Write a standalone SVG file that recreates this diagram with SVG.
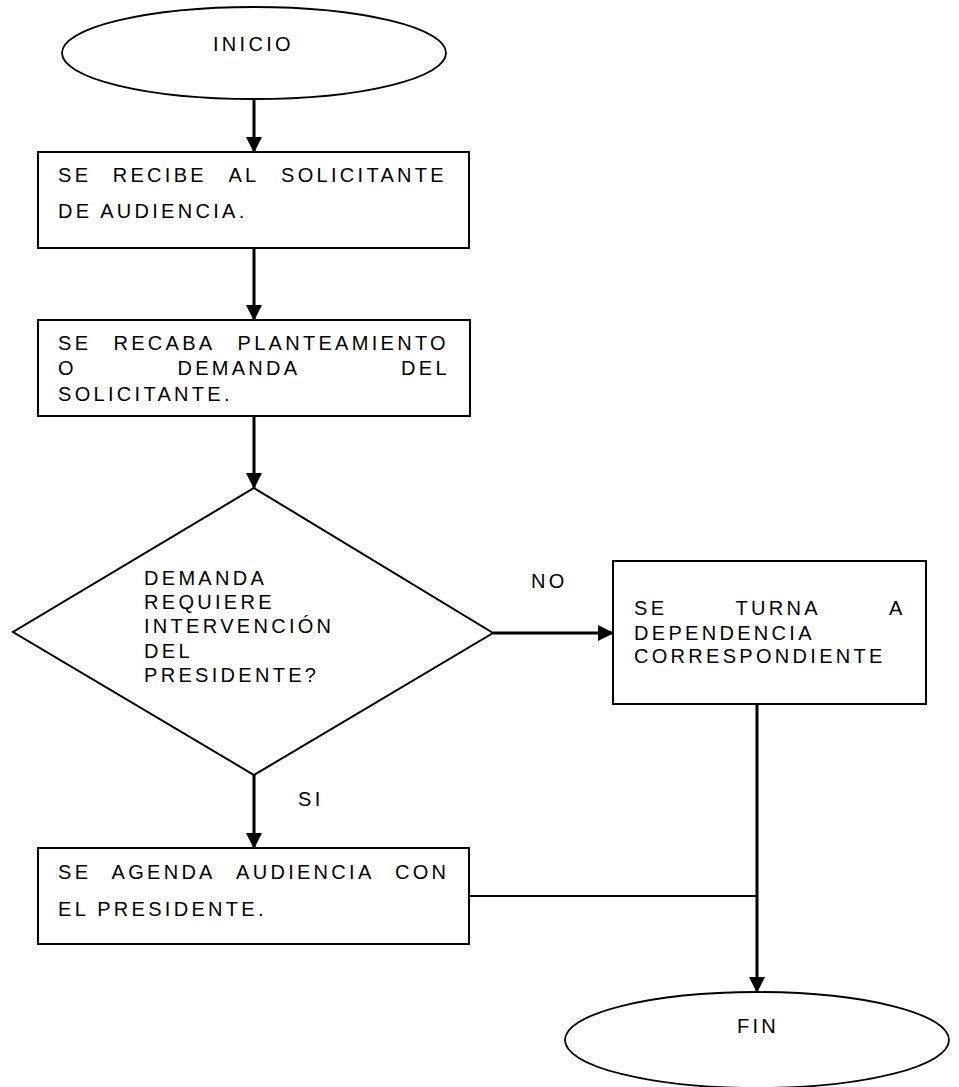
<svg xmlns="http://www.w3.org/2000/svg" width="959" height="1087" viewBox="0 0 959 1087">
<defs>
<style>
.t{font-family:"Liberation Sans",Arial,sans-serif;font-size:20px;letter-spacing:3.3px;fill:#000}
.shape{fill:#fff;stroke:#000;stroke-width:2}
.term{fill:#fff;stroke:#000;stroke-width:1.8}
.c{fill:none;stroke:#000;stroke-width:3}
.c2{fill:none;stroke:#000;stroke-width:2}
</style>
<marker id="arr" markerUnits="userSpaceOnUse" markerWidth="16" markerHeight="16" refX="15" refY="8" orient="auto" viewBox="0 0 16 16">
<path d="M0,0 L16,8 L0,16 Z" fill="#000"/>
</marker>
</defs>
<rect width="959" height="1087" fill="#fff"/>
<g id="connectors">
<line class="c" x1="254" y1="99" x2="254" y2="152" marker-end="url(#arr)"/>
<line class="c" x1="254" y1="248" x2="254" y2="320" marker-end="url(#arr)"/>
<line class="c" x1="254" y1="416" x2="254" y2="488" marker-end="url(#arr)"/>
<line class="c" x1="493" y1="633" x2="613" y2="633" marker-end="url(#arr)"/>
<line class="c" x1="254" y1="775" x2="254" y2="848" marker-end="url(#arr)"/>
<line class="c2" x1="469" y1="896" x2="757" y2="896"/>
<line class="c" x1="757" y1="704" x2="757" y2="992" marker-end="url(#arr)"/>
<text class="t" x="531" y="588">NO</text>
<text class="t" x="298" y="806">SI</text>
</g>
<g id="inicio">
<ellipse class="term" cx="254" cy="53" rx="192" ry="46"/>
<text class="t" x="213" y="51">INICIO</text>
</g>
<g id="recibe">
<rect class="shape" x="38" y="152" width="431" height="96"/>
<text class="t" y="182"><tspan x="58">SE</tspan><tspan x="112.7">RECIBE</tspan><tspan x="228.4">AL</tspan><tspan x="281">SOLICITANTE</tspan></text>
<text class="t" x="58" y="218">DE AUDIENCIA.</text>
</g>
<g id="recaba">
<rect class="shape" x="38" y="320" width="432" height="96"/>
<text class="t" y="350"><tspan x="58">SE</tspan><tspan x="113.4">RECABA</tspan><tspan x="237.5">PLANTEAMIENTO</tspan></text>
<text class="t" y="375"><tspan x="58">O</tspan><tspan x="177.4">DEMANDA</tspan><tspan x="401">DEL</tspan></text>
<text class="t" x="58" y="401">SOLICITANTE.</text>
</g>
<g id="decision">
<polygon class="shape" points="254,488 493,633 254,775 13,632"/>
<text class="t" x="144" y="585">DEMANDA</text>
<text class="t" x="144" y="609">REQUIERE</text>
<text class="t" x="144" y="633">INTERVENCIÓN</text>
<text class="t" x="144" y="658">DEL</text>
<text class="t" x="144" y="682">PRESIDENTE?</text>
</g>
<g id="turna">
<rect class="shape" x="613" y="561" width="313" height="143"/>
<text class="t" y="615"><tspan x="634">SE</tspan><tspan x="735.5">TURNA</tspan><tspan x="889">A</tspan></text>
<text class="t" x="634" y="640">DEPENDENCIA</text>
<text class="t" x="634" y="663">CORRESPONDIENTE</text>
</g>
<g id="agenda">
<rect class="shape" x="38" y="848" width="431" height="96"/>
<text class="t" y="879"><tspan x="58">SE</tspan><tspan x="111.5">AGENDA</tspan><tspan x="236">AUDIENCIA</tspan><tspan x="395">CON</tspan></text>
<text class="t" x="58" y="916">EL PRESIDENTE.</text>
</g>
<g id="fin">
<ellipse class="term" cx="757" cy="1040" rx="192" ry="48"/>
<text class="t" x="737" y="1033">FIN</text>
</g>
</svg>
